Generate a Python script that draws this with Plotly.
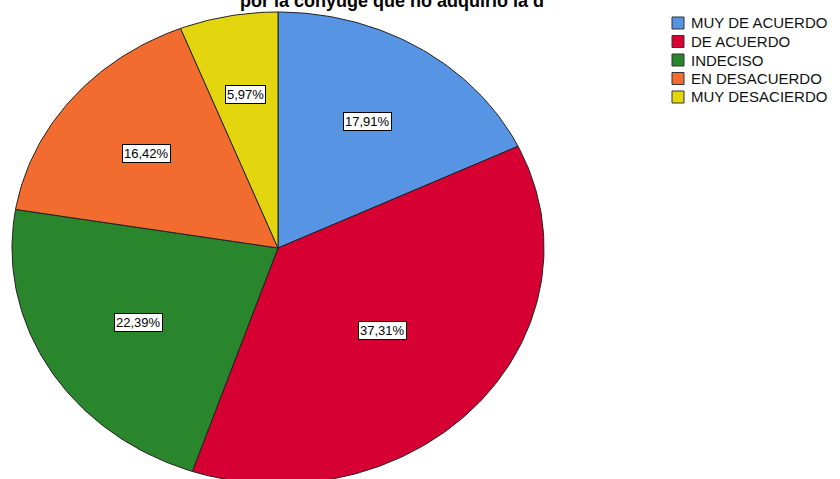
import numpy as np
import plotly.graph_objects as go

categories = ["MUY DE ACUERDO", "DE ACUERDO", "INDECISO", "EN DESACUERDO", "MUY DESACIERDO"]
percentages = [17.91, 37.31, 22.39, 16.42, 5.97]
colors = ["#5794E3", "#D60033", "#2A862D", "#F26B2F", "#E3D60F"]
title_text = "por la conyuge que no adquirio la d"

W, H = 840, 479
CX, CY, RX, RY = 278, 248, 266, 236  # pie centre / radii in pixels

fig = go.Figure()
total = sum(percentages)
start = 0.0
for cat, val, col in zip(categories, percentages, colors):
    frac = val / total
    t = np.linspace(start, start + frac, max(int(frac * 400), 8)) * 2 * np.pi
    xs = np.concatenate([[0], np.sin(t), [0]])
    ys = np.concatenate([[0], np.cos(t), [0]])
    fig.add_trace(go.Scatter(x=xs, y=ys, fill="toself", fillcolor=col, mode="lines",
                             line=dict(color="#222222", width=1), name=cat,
                             showlegend=False, hoverinfo="name"))
    # label at sector centroid
    half = frac * np.pi
    mid = (start + frac / 2) * 2 * np.pi
    rc = (2 / 3) * np.sin(half) / half
    fig.add_annotation(x=rc * np.sin(mid), y=rc * np.cos(mid), xref="x", yref="y",
                       text=f"{val:.2f}%".replace(".", ","), showarrow=False,
                       font=dict(family="Liberation Sans, Arial", size=13, color="black"),
                       bgcolor="white", bordercolor="black", borderwidth=1, borderpad=1)
    start += frac

# legend (built from the category / colour lists)
for i, (cat, col) in enumerate(zip(categories, colors)):
    yc = 23 + i * 18.5
    fig.add_shape(type="rect", xref="paper", yref="paper",
                  x0=672 / W, x1=684 / W, y0=1 - (yc + 6) / H, y1=1 - (yc - 6) / H,
                  fillcolor=col, line=dict(color="#333333", width=1))
    fig.add_annotation(x=689 / W, y=1 - yc / H, xref="paper", yref="paper",
                       text=cat, showarrow=False, xanchor="left", yanchor="middle",
                       font=dict(family="Liberation Sans, Arial", size=15, color="#111111"))

fig.add_annotation(x=392 / W, y=1 - 13 / H, xref="paper", yref="paper",
                   text=f"<b>{title_text}</b>", showarrow=False, xanchor="center",
                   yanchor="bottom",
                   font=dict(family="Liberation Sans, Arial", size=18, color="black"))

fig.update_xaxes(range=[-CX / RX, (W - CX) / RX], visible=False, fixedrange=True)
fig.update_yaxes(range=[-(H - CY) / RY, CY / RY], visible=False, fixedrange=True)
fig.update_layout(width=W, height=H, margin=dict(l=0, r=0, t=0, b=0),
                  plot_bgcolor="white", paper_bgcolor="white", showlegend=False)

fig.write_html("out.html", config={"displayModeBar": False},
               post_script="document.body.style.margin='0';document.body.style.padding='0';")
